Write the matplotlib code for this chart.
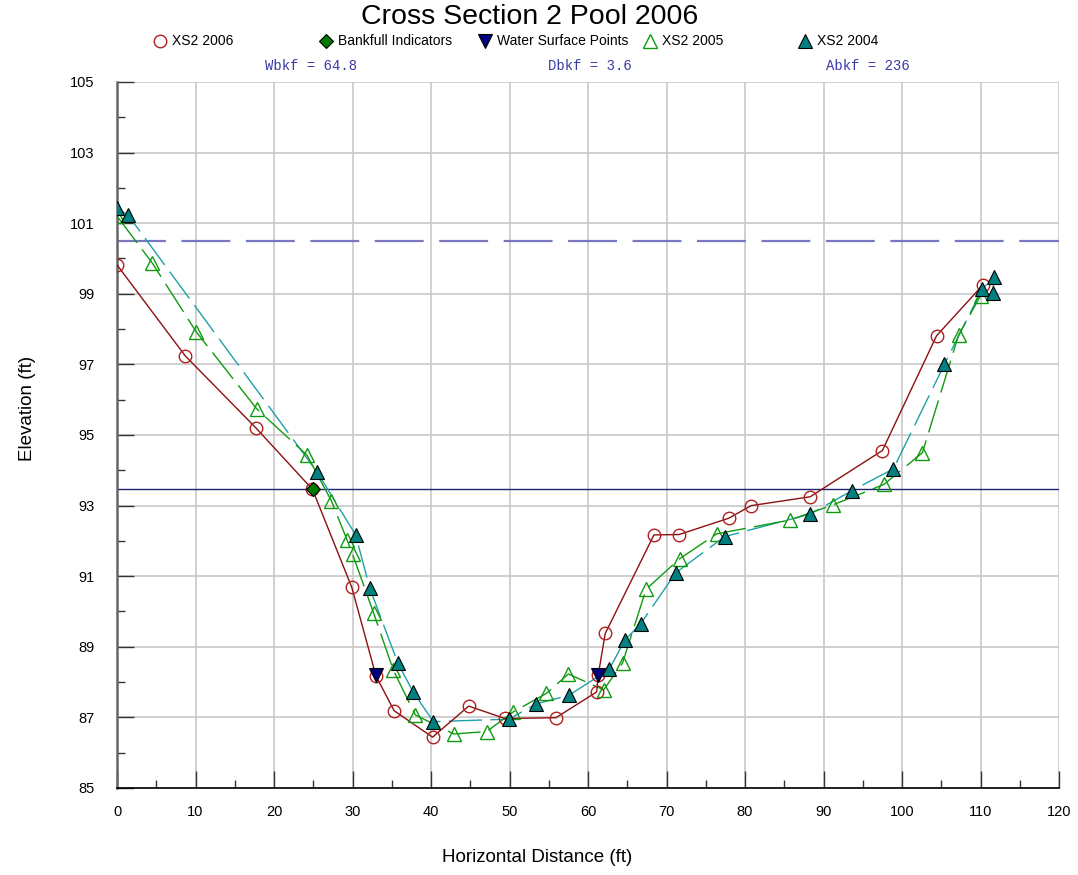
import matplotlib
matplotlib.use("Agg")
import matplotlib.pyplot as plt
from matplotlib.lines import Line2D
from matplotlib.ticker import MultipleLocator

# survey data
xs2006_x = [0, 8.7, 17.7, 24.9, 29.9, 33.0, 35.3, 40.2, 44.8, 49.4, 55.9, 61.1, 61.3,
            62.2, 68.4, 71.6, 77.9, 80.8, 88.3, 97.5, 104.4, 110.3]
xs2006_y = [99.82, 97.24, 95.2, 93.46, 90.69, 88.17, 87.19, 86.44, 87.32, 86.97, 86.99, 87.72, 88.2,
            89.38, 92.17, 92.18, 92.64, 93.0, 93.25, 94.56, 97.81, 99.25]

xs2005_x = [0, 4.5, 10.1, 17.8, 24.2, 27.3, 29.3, 30.0, 32.7, 35.2, 38.0, 42.9, 47.1, 50.5,
            54.7, 57.5, 62.0, 64.4, 67.4, 71.7, 76.4, 85.7, 91.2, 97.7, 102.6, 107.2, 110.0]
xs2005_y = [101.2, 99.87, 97.92, 95.74, 94.43, 93.14, 92.03, 91.63, 89.95, 88.34, 87.07, 86.53, 86.6, 87.16,
            87.68, 88.23, 87.78, 88.54, 90.63, 91.5, 92.2, 92.59, 93.02, 93.6, 94.5, 97.83, 98.94]

xs2004_x = [0, 1.4, 25.5, 30.4, 32.2, 35.8, 37.7, 40.3, 49.9, 53.4, 57.6, 62.7, 64.7, 66.7,
            71.2, 77.4, 88.3, 93.6, 98.9, 105.4, 110.2, 111.7, 111.6]
xs2004_y = [101.43, 101.23, 93.95, 92.17, 90.66, 88.53, 87.73, 86.88, 86.95, 87.38, 87.63, 88.36, 89.19, 89.65,
            91.1, 92.12, 92.76, 93.42, 94.04, 97.0, 99.13, 99.48, 99.01]

bankfull_x = [25.0]
bankfull_y = [93.47]
water_x = [33.0, 61.3]
water_y = [88.2, 88.2]

bkf_elev = 93.47
flood_elev = 100.5

stats = ["Wbkf = 64.8", "Dbkf = 3.6", "Abkf = 236"]

plt.rcParams["font.family"] = ["Liberation Sans", "DejaVu Sans"]

W, H = 1078, 875
fig = plt.figure(figsize=(W / 100, H / 100), dpi=100)
ax = fig.add_axes([117 / W, 1 - 788 / H, (1059 - 117) / W, (788 - 82) / H])

ax.set_xlim(0, 120)
ax.set_ylim(85, 105)
ax.xaxis.set_major_locator(MultipleLocator(10))
ax.xaxis.set_minor_locator(MultipleLocator(5))
ax.set_yticks(range(85, 106, 2))
ax.yaxis.set_minor_locator(MultipleLocator(1))
ax.grid(True, which="major", color="#c8c8c8", lw=1.2, zorder=0)
ax.tick_params(which="major", direction="in", length=12, width=1, labelsize=10.5, color="#333333")
ax.tick_params(which="minor", direction="in", length=6, width=1, color="#333333")
ax.tick_params(axis="x", pad=12)
ax.tick_params(axis="y", pad=16)
for s in ["top", "right"]:
    ax.spines[s].set_visible(False)
ax.spines["left"].set_color("#666666")
ax.spines["left"].set_linewidth(1.8)
ax.spines["bottom"].set_linewidth(1.2)

# reference elevations
ax.axhline(flood_elev, color="#7878c0", lw=1.6, dashes=(22, 7), zorder=2)
ax.axhline(bkf_elev, color="#202070", lw=1.0, zorder=2)

ax.plot(xs2004_x, xs2004_y, color="#1fa0a8", lw=1.0, dashes=(24, 6), zorder=3)
ax.plot(xs2005_x, xs2005_y, color="#109a10", lw=1.0, dashes=(24, 6), zorder=3)
ax.plot(xs2006_x, xs2006_y, color="#8b1010", lw=1.0, zorder=4)

ax.plot(xs2006_x, xs2006_y, ls="none", marker="o", ms=9, mfc="none", mec="#b02020", mew=1.0, zorder=5)
ax.plot(xs2005_x, xs2005_y, ls="none", marker="^", ms=10, mfc="none", mec="#109a10", mew=1.0, zorder=5)
ax.plot(xs2004_x, xs2004_y, ls="none", marker="^", ms=10, mfc="#008080", mec="black", mew=0.8, zorder=6)
ax.plot(bankfull_x, bankfull_y, ls="none", marker="D", ms=7, mfc="#007a00", mec="black", mew=0.8, zorder=7)
ax.plot(water_x, water_y, ls="none", marker="v", ms=10, mfc="#000080", mec="black", mew=0.8, zorder=7)

fig.text(537 / W, 1 - 857 / H, "Horizontal Distance (ft)", ha="center", va="center", fontsize=13.5)
fig.text(27 / W, 1 - 408 / H, "Elevation (ft)", ha="center", va="center", rotation=90, fontsize=13.5)
fig.text(530 / W, 1 - 17 / H, "Cross Section 2 Pool 2006", ha="center", va="center", fontsize=20.5)

# legend row
legend_items = [
    ("XS2 2006", dict(marker="o", ms=9, mfc="none", mec="#b02020", mew=1.0)),
    ("Bankfull Indicators", dict(marker="D", ms=7, mfc="#007a00", mec="black", mew=0.8)),
    ("Water Surface Points", dict(marker="v", ms=10, mfc="#000080", mec="black", mew=0.8)),
    ("XS2 2005", dict(marker="^", ms=10, mfc="none", mec="#109a10", mew=1.0)),
    ("XS2 2004", dict(marker="^", ms=10, mfc="#008080", mec="black", mew=0.8)),
]
legend_px = [160, 326, 485, 650, 805]
for (label, style), px in zip(legend_items, legend_px):
    fig.add_artist(Line2D([px / W], [1 - 41 / H], ls="none", transform=fig.transFigure, **style))
    fig.text((px + 12) / W, 1 - 41 / H, label, ha="left", va="center", fontsize=10)

for txt, px in zip(stats, [311, 590, 868]):
    fig.text(px / W, 1 - 66 / H, txt, ha="center", va="center", fontsize=10,
             family="Liberation Mono", color="#3a3aa8")

fig.savefig("out.png", dpi=100)
